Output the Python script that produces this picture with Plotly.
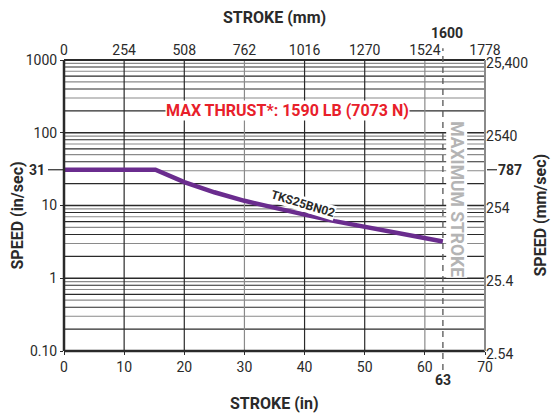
import math
import plotly.graph_objects as go

# Speed vs. stroke curve for the TKS25BN02 screw
stroke_in = [0, 15.2, 20, 25, 30, 35, 40, 45, 50, 55, 60, 63]
speed_in_s = [31, 31, 21, 15.2, 11.6, 9.2, 7.5, 6.1, 5.1, 4.3, 3.6, 3.2]

x_in_ticks = [0, 10, 20, 30, 40, 50, 60, 70]
x_mm_ticks = [0, 254, 508, 762, 1016, 1270, 1524, 1778]
y_in_ticks = [0.1, 1, 10, 100, 1000]
y_in_text = ["0.10", "1", "10", "100", "1000"]
y_mm_ticks = [2.54, 25.4, 254, 2540, 25400]
y_mm_text = ["2.54", "25.4", "254", "2540", "25,400"]

max_speed_in = 31
max_speed_mm = 787
max_stroke_in = 63
max_stroke_mm = 1600
curve_label = "TKS25BN02"
thrust_label = "MAX THRUST*: 1590 LB (7073 N)"

FONT = "Roboto, Liberation Sans, sans-serif"
DARK = "#2a2a2a"
GRAY = "#8a8a8a"
PURPLE = "#6a2c8e"
RED = "#e8202a"

fig = go.Figure()

fig.add_trace(go.Scatter(
    x=stroke_in, y=speed_in_s, mode="lines",
    line=dict(color=PURPLE, width=4.5), hoverinfo="skip", showlegend=False,
))
# invisible trace so the mm axes are drawn
fig.add_trace(go.Scatter(
    x=[0, 1778], y=[2.54, 25400], xaxis="x2", yaxis="y2", mode="markers",
    marker=dict(opacity=0), hoverinfo="skip", showlegend=False,
))

shapes = []
# horizontal grid: decades and their minor steps
minor_colors = {2: DARK, 3: GRAY, 4: DARK, 5: GRAY, 6: DARK, 7: GRAY, 8: DARK, 9: GRAY}
for e in range(-1, 3):
    base = 10 ** e
    if e > -1:
        shapes.append(dict(type="line", xref="paper", yref="y", x0=0, x1=1,
                           y0=base, y1=base, line=dict(color=DARK, width=1.6), layer="below"))
    for m in range(2, 10):
        v = m * base
        shapes.append(dict(type="line", xref="paper", yref="y", x0=0, x1=1,
                           y0=v, y1=v, line=dict(color=minor_colors[m], width=1.1), layer="below"))
# vertical grid
for xv in x_in_ticks[1:-1]:
    col = GRAY if xv in (30, 60) else DARK
    shapes.append(dict(type="line", xref="x", yref="paper", x0=xv, x1=xv, y0=0, y1=1,
                       line=dict(color=col, width=1.2), layer="below"))
# frame
shapes += [
    dict(type="line", xref="paper", yref="paper", x0=0, x1=0, y0=0, y1=1, line=dict(color=DARK, width=2.5)),
    dict(type="line", xref="paper", yref="paper", x0=0, x1=1, y0=0, y1=0, line=dict(color=DARK, width=2.5)),
    dict(type="line", xref="paper", yref="paper", x0=0, x1=1, y0=1, y1=1, line=dict(color=DARK, width=2)),
    dict(type="line", xref="paper", yref="paper", x0=1, x1=1, y0=0, y1=1, line=dict(color=GRAY, width=2)),
]
# maximum stroke marker
shapes.append(dict(type="line", xref="x", yref="paper", x0=max_stroke_in, x1=max_stroke_in,
                   y0=-0.065, y1=1.04, line=dict(color="#555555", width=1.3, dash="6px,5px")))
# leader ticks for the max-speed values
PW = 421
shapes.append(dict(type="line", xref="paper", yref="y", x0=-16 / PW, x1=0,
                   y0=max_speed_in, y1=max_speed_in, line=dict(color=DARK, width=1.2)))
shapes.append(dict(type="line", xref="paper", yref="y", x0=1 + 2 / PW, x1=1 + 12 / PW,
                   y0=max_speed_in, y1=max_speed_in, line=dict(color=DARK, width=1.2)))


def label(text, size, color=DARK, **kw):
    base = dict(text=text, showarrow=False, xanchor="center", yanchor="middle",
                font=dict(size=size, color=color, family=FONT))
    base.update(kw)
    return base


annotations = [
    label("<b>STROKE (mm)</b>", 16, xref="paper", yref="paper", x=0.5, y=1, yshift=43),
    label("<b>STROKE (in)</b>", 16, xref="paper", yref="paper", x=0.5, y=0, yshift=-52),
    label("<b>SPEED (in/sec)</b>", 16, xref="paper", yref="paper", x=0, xshift=-47,
          y=0.5, yshift=-10, textangle=-90),
    label("<b>SPEED (mm/sec)</b>", 16, xref="paper", yref="paper", x=1, xshift=55,
          y=0.5, yshift=-10, textangle=-90),
    label("<b>%d</b>" % max_speed_in, 14, xref="paper", yref="y", x=0, xshift=-27,
          y=math.log10(max_speed_in)),
    label("<b>%d</b>" % max_speed_mm, 14, xref="paper", yref="y", x=1, xshift=25,
          y=math.log10(max_speed_in)),
    label("<b>%d</b>" % max_stroke_in, 14, xref="x", yref="paper", x=max_stroke_in, y=0, yshift=-29),
    label("<b>%d</b>" % max_stroke_mm, 14, xref="x", yref="paper", x=max_stroke_in, xshift=4,
          y=1, yshift=27),
    label("<b>%s</b>" % thrust_label, 16, color=RED, xref="x", yref="y", x=37.1,
          y=math.log10(205), bgcolor="white", borderpad=0),
    label("<b>%s</b>" % curve_label, 12, xref="x", yref="y", x=39.8, y=math.log10(10.6),
          textangle=17, bgcolor="white", borderpad=0),
    label("<b>MAXIMUM STROKE</b>", 17.5, color="#b4b4b4", xref="x", yref="y", x=65.3,
          y=math.log10(12.3), textangle=90, bgcolor="white", borderpad=0),
]

tickfont = dict(size=14, color=DARK, family=FONT)
fig.update_layout(
    width=551, height=419,
    margin=dict(l=64, r=66, t=60, b=68),
    paper_bgcolor="white", plot_bgcolor="white",
    showlegend=False,
    shapes=shapes, annotations=annotations,
    xaxis=dict(range=[0, 70], tickvals=x_in_ticks, showgrid=False, zeroline=False,
               ticks="outside", ticklen=3, tickcolor=DARK, tickfont=tickfont, showline=False),
    yaxis=dict(type="log", range=[-1, 3], tickvals=y_in_ticks, ticktext=y_in_text,
               showgrid=False, zeroline=False, ticks="outside", ticklen=3, tickcolor=DARK,
               tickfont=tickfont, showline=False),
    xaxis2=dict(range=[0, 1778], overlaying="x", side="top", tickvals=x_mm_ticks,
                showgrid=False, zeroline=False, ticks="", tickfont=tickfont, showline=False,
                ticklabelstandoff=1),
    yaxis2=dict(type="log", range=[math.log10(2.54), math.log10(25400)], overlaying="y",
                side="right", tickvals=y_mm_ticks, ticktext=y_mm_text, showgrid=False,
                zeroline=False, ticks="", tickfont=tickfont, showline=False,
                ticklabelshift=3),
)

fig.write_html("out.html")
